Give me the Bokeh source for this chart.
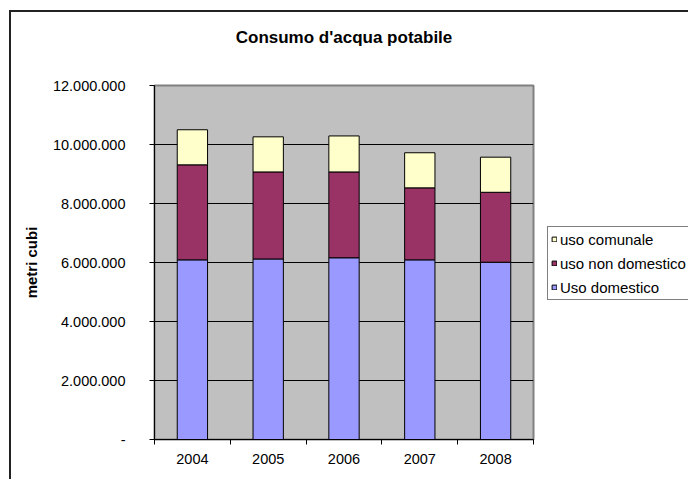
from bokeh.plotting import figure
from bokeh.models import (ColumnDataSource, FixedTicker, Legend, LegendItem,
                          Range1d, Title)
from bokeh.embed import file_html
from bokeh.resources import INLINE

# ---- data ----
years = ["2004", "2005", "2006", "2007", "2008"]
uso_domestico = [6090000, 6120000, 6160000, 6090000, 6010000]
uso_non_domestico = [3220000, 2950000, 2910000, 2440000, 2370000]
uso_comunale = [1190000, 1190000, 1220000, 1190000, 1190000]
series_names = ["Uso domestico", "uso non domestico", "uso comunale"]
series_colors = ["#9999FF", "#993366", "#FFFFCC"]
y_ticks = [0, 2000000, 4000000, 6000000, 8000000, 10000000, 12000000]
y_tick_labels = ["-", "2.000.000", "4.000.000", "6.000.000", "8.000.000",
                 "10.000.000", "12.000.000"]
title_text = "Consumo d'acqua potabile"
y_label = "metri cubi"

FONT = "Liberation Sans"

xpos = [i + 0.5 for i in range(len(years))]
bounds = [i for i in range(len(years) + 1)]

src = ColumnDataSource(dict(x=xpos, dom=uso_domestico, nondom=uso_non_domestico,
                            com=uso_comunale))

p = figure(frame_width=379, frame_height=354, x_range=Range1d(0, len(years)),
           y_range=Range1d(0, 12000000), output_backend="svg",
           toolbar_location=None, title=None,
           min_border_left=143, min_border_right=155,
           min_border_top=72, min_border_bottom=40,
           background_fill_color="#C0C0C0", border_fill_color="white",
           outline_line_color="#808080", outline_line_width=2)

p.styles = {"border-left": "2px solid #222222", "border-top": "2px solid #222222",
            "margin-left": "9px", "margin-top": "10px"}

# spacer panel next to the frame (white, blank), then the title further out
p.add_layout(Title(text=" ", text_font_size="1px", standoff=22,
                   text_color="white"), "above")
p.add_layout(Title(text=title_text, align="center", text_font=FONT,
                   text_font_size="17px", text_font_style="bold",
                   text_color="black", standoff=27), "above")

rs = p.vbar_stack(["dom", "nondom", "com"], x="x", width=0.4, source=src,
                  fill_color=series_colors, line_color="black", line_width=1)

# x axis: labels at category centres, tick marks at category boundaries
xa = p.xaxis[0]
xa.ticker = FixedTicker(ticks=xpos, minor_ticks=bounds)
xa.major_label_overrides = {x: y for x, y in zip(xpos, years)}
xa.major_tick_in = 0
xa.major_tick_out = 0
xa.major_tick_line_color = None
xa.minor_tick_in = 0
xa.minor_tick_out = 5
xa.minor_tick_line_color = "black"
xa.axis_line_color = "black"
xa.major_label_text_font = FONT
xa.major_label_text_font_size = "14.5px"
xa.major_label_text_color = "black"
xa.major_label_standoff = 9

ya = p.yaxis[0]
ya.ticker = FixedTicker(ticks=y_ticks, minor_ticks=[])
ya.major_label_overrides = {t: l for t, l in zip(y_ticks, y_tick_labels)}
ya.major_tick_in = 0
ya.major_tick_out = 5
ya.major_tick_line_color = "black"
ya.minor_tick_line_color = None
ya.axis_line_color = "black"
ya.major_label_text_font = FONT
ya.major_label_text_font_size = "14.5px"
ya.major_label_text_color = "black"
ya.major_label_standoff = 24
ya.axis_label = y_label
ya.axis_label_text_font = FONT
ya.axis_label_text_font_size = "15px"
ya.axis_label_text_font_style = "bold"
ya.axis_label_text_color = "black"
ya.axis_label_standoff = 10

p.xgrid.visible = False
p.ygrid.grid_line_color = "black"
p.ygrid.grid_line_width = 1

items = [LegendItem(label=series_names[i], renderers=[rs[i]])
         for i in reversed(range(len(series_names)))]
legend = Legend(items=items, location=(14, 139),
                label_text_font=FONT, label_text_font_size="15px",
                label_text_color="black",
                glyph_width=6, glyph_height=6, label_height=18,
                spacing=6, padding=3, margin=0, label_standoff=3,
                border_line_color="black", border_line_width=1,
                background_fill_color="white", background_fill_alpha=1)
p.add_layout(legend, "right")

open("out.html", "w").write(file_html(p, INLINE))
